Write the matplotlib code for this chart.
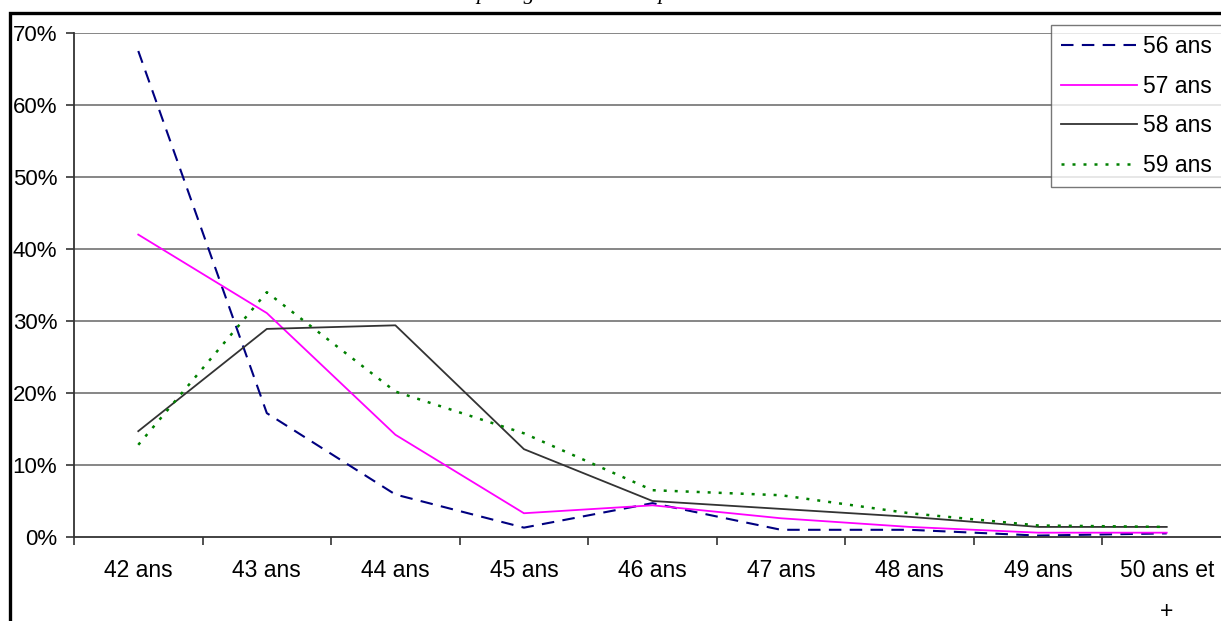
import matplotlib.pyplot as plt
from matplotlib.patches import Rectangle
import numpy as np

# categories and series (percent)
ages = ['42 ans', '43 ans', '44 ans', '45 ans', '46 ans', '47 ans', '48 ans', '49 ans', '50 ans et\n+']
s56 = [67.5, 17.2, 5.9, 1.3, 4.7, 1.0, 1.0, 0.2, 0.5]
s57 = [42.0, 31.1, 14.2, 3.3, 4.4, 2.6, 1.4, 0.6, 0.6]
s58 = [14.7, 28.9, 29.4, 12.2, 5.0, 3.9, 2.8, 1.4, 1.4]
s59 = [12.8, 34.0, 20.2, 14.4, 6.5, 5.8, 3.3, 1.6, 1.4]
yticks = [0, 10, 20, 30, 40, 50, 60, 70]

W, H = 1221, 621
plt.rcParams['font.family'] = ['Liberation Sans', 'DejaVu Sans']

fig = plt.figure(figsize=(W / 100, H / 100), dpi=100)
ax = fig.add_axes([74 / W, 1 - 537 / H, 1157 / W, 504 / H])

x = np.arange(len(ages)) + 0.5
ax.plot(x, s56, color='#000080', lw=1.5, ls=(0, (6, 4)), label='56 ans')
ax.plot(x, s57, color='#ff00ff', lw=1.3, label='57 ans')
ax.plot(x, s58, color='#333333', lw=1.3, label='58 ans')
ax.plot(x, s59, color='#008000', lw=1.8, ls=(0, (1.2, 3.2)), label='59 ans')

ax.set_xlim(0, len(ages))
ax.set_ylim(0, 70)
ax.set_yticks(yticks)
ax.set_yticklabels([f'{v}%' for v in yticks])
ax.set_xticks(np.arange(len(ages) + 1))
ax.set_xticklabels([])
ax.set_xticks(x, minor=True)
ax.set_xticklabels(ages, minor=True, linespacing=2.0)
ax.tick_params(axis='x', which='minor', length=0, pad=16, labelsize=16.5)
ax.tick_params(axis='x', which='major', length=6, width=1.2, color='#333333', direction='out')
ax.tick_params(axis='y', length=6, width=1.2, color='#333333', pad=6, labelsize=16)

for v in yticks[1:]:
    ax.axhline(v, color='#666666', lw=1.1, zorder=0)
for s in ['top', 'right']:
    ax.spines[s].set_visible(False)
for s in ['left', 'bottom']:
    ax.spines[s].set_color('#333333')
    ax.spines[s].set_linewidth(1.3)

leg = ax.legend(loc='upper left', bbox_to_anchor=(1051 / W, 1 - 25 / H),
                bbox_transform=fig.transFigure, fontsize=16.5, frameon=True,
                fancybox=False, borderaxespad=0, borderpad=0.45,
                labelspacing=0.72, handlelength=3.3, handletextpad=0.25)
leg.get_frame().set_edgecolor('#555555')
leg.get_frame().set_linewidth(1.0)

# outer chart border, cropped at right and bottom
fig.add_artist(Rectangle((9.5 / W, -0.2), 1.2, 1.2 - 13 / H, transform=fig.transFigure,
                         fill=False, edgecolor='black', lw=2.4))

# title, cut off at the top of the picture
fig.text(476 / W, 1 + 1 / H, 'par âge en début de période', ha='left', va='baseline',
         fontsize=16, family='Liberation Serif', style='italic')

fig.savefig('out.png', dpi=100)
